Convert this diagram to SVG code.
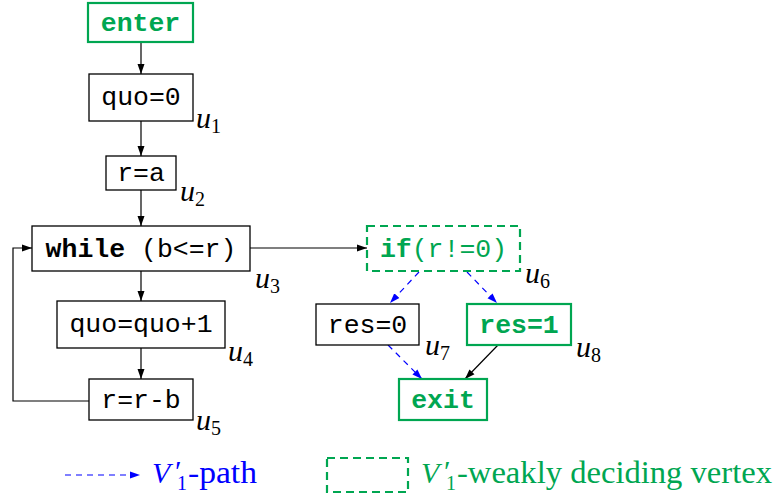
<svg xmlns="http://www.w3.org/2000/svg" width="776" height="496" viewBox="0 0 776 496">
<style>
.box{fill:#fff;stroke:#000;stroke-width:1.3}
.gbox{fill:#fff;stroke:#00a651;stroke-width:2.2}
.gdash{fill:#fff;stroke:#00a651;stroke-width:2.2;stroke-dasharray:8 5}
.t{font-family:"Liberation Mono",monospace;font-size:26.5px;text-anchor:middle;fill:#000}
.g{fill:#00a651}
.b{font-weight:bold}
.lab{font-family:"Liberation Serif",serif;font-size:30px;font-style:italic;fill:#000}
.sub{font-style:normal;font-size:20px}
.e{fill:none;stroke:#000;stroke-width:1.2}
.d{fill:none;stroke:#0000ff;stroke-width:1.2;stroke-dasharray:6 5}
.lg{font-family:"Liberation Serif",serif;font-size:31px}
.lgv{font-family:"Liberation Serif",serif;font-size:30px;font-style:italic}
.lgp{font-family:"Liberation Serif",serif;font-size:30px}
.lgs{font-family:"Liberation Serif",serif;font-size:20px}
</style>
<defs>
<marker id="ak" viewBox="0 0 10 10" refX="10" refY="5" markerWidth="10" markerHeight="10" markerUnits="userSpaceOnUse" orient="auto"><path d="M0,1.5 L10,5 L0,8.5 Z" fill="#000"/></marker>
<marker id="ab" viewBox="0 0 10 10" refX="10" refY="5" markerWidth="10" markerHeight="10" markerUnits="userSpaceOnUse" orient="auto"><path d="M0,1.5 L10,5 L0,8.5 Z" fill="#0000ff"/></marker>
</defs>
<g id="connectors">
<line class="e" x1="141" y1="42" x2="141" y2="74" marker-end="url(#ak)"/>
<line class="e" x1="141" y1="121" x2="141" y2="156" marker-end="url(#ak)"/>
<line class="e" x1="141" y1="190" x2="141" y2="226" marker-end="url(#ak)"/>
<line class="e" x1="141" y1="271" x2="141" y2="301" marker-end="url(#ak)"/>
<line class="e" x1="141" y1="348" x2="141" y2="379" marker-end="url(#ak)"/>
<polyline class="e" points="89,401 13,401 13,248 32,248" marker-end="url(#ak)"/>
<line class="e" x1="250" y1="248" x2="367" y2="248" marker-end="url(#ak)"/>
<line class="d" x1="419" y1="272" x2="390" y2="303" marker-end="url(#ab)"/>
<line class="d" x1="467" y1="272" x2="497" y2="303" marker-end="url(#ab)"/>
<line class="d" x1="388" y1="345" x2="422" y2="379" marker-end="url(#ab)"/>
<line class="e" x1="498" y1="345" x2="465" y2="379" marker-end="url(#ak)"/>
</g>
<g id="enter"><rect class="gbox" x="88" y="3" width="105" height="39"/><text class="t g b" x="140.5" y="31">enter</text></g>
<g id="u1"><rect class="box" x="89" y="74" width="104" height="47"/><text class="t" x="141" y="105">quo=0</text><text class="lab" x="196" y="128">u<tspan class="sub" dy="5">1</tspan></text></g>
<g id="u2"><rect class="box" x="106" y="156" width="70" height="34"/><text class="t" x="141" y="181">r=a</text><text class="lab" x="180" y="201">u<tspan class="sub" dy="5">2</tspan></text></g>
<g id="u3"><rect class="box" x="32" y="226" width="218" height="45"/><text class="t" x="141" y="257"><tspan class="b">while</tspan> (b&lt;=r)</text><text class="lab" x="255" y="288">u<tspan class="sub" dy="5">3</tspan></text></g>
<g id="u4"><rect class="box" x="57" y="301" width="168" height="47"/><text class="t" x="141" y="332">quo=quo+1</text><text class="lab" x="228" y="361">u<tspan class="sub" dy="5">4</tspan></text></g>
<g id="u5"><rect class="box" x="89" y="379" width="104" height="41"/><text class="t" x="141" y="408">r=r-b</text><text class="lab" x="196" y="430">u<tspan class="sub" dy="5">5</tspan></text></g>
<g id="u6"><rect class="gdash" x="367" y="226" width="153" height="45"/><text class="t g" x="443.5" y="257"><tspan class="b">if</tspan>(r!=0)</text><text class="lab" x="525" y="283">u<tspan class="sub" dy="5">6</tspan></text></g>
<g id="u7"><rect class="box" x="316" y="304" width="103" height="41"/><text class="t" x="367.5" y="333">res=0</text><text class="lab" x="425" y="355">u<tspan class="sub" dy="5">7</tspan></text></g>
<g id="u8"><rect class="gbox" x="467" y="304" width="104" height="41"/><text class="t g b" x="519" y="333">res=1</text><text class="lab" x="576" y="357">u<tspan class="sub" dy="5">8</tspan></text></g>
<g id="exit"><rect class="gbox" x="399" y="379" width="88" height="41"/><text class="t g b" x="443" y="408">exit</text></g>
<g id="legend">
<line class="d" x1="65" y1="475" x2="140" y2="475" marker-end="url(#ab)"/>
<g fill="#0000ff">
<text class="lgv" x="152" y="483">V</text>
<text class="lgp" x="175" y="481">′</text>
<text class="lgs" x="177" y="490">1</text>
<text class="lg" x="188" y="483" textLength="69" lengthAdjust="spacingAndGlyphs">-path</text>
</g>
<rect x="327" y="458" width="81" height="34" fill="none" stroke="#00a651" stroke-width="2.2" stroke-dasharray="8 5"/>
<g fill="#00a651">
<text class="lgv" x="421" y="483">V</text>
<text class="lgp" x="444" y="481">′</text>
<text class="lgs" x="446" y="490">1</text>
<text class="lg" x="457" y="483" textLength="315" lengthAdjust="spacingAndGlyphs">-weakly deciding vertex</text>
</g>
</g>
</svg>
